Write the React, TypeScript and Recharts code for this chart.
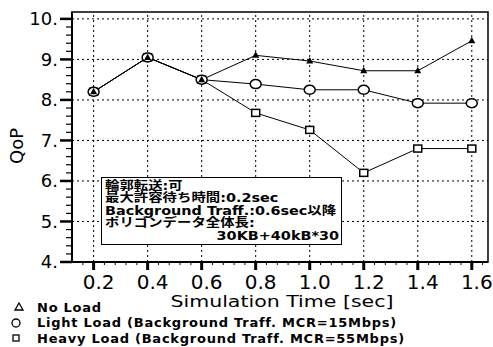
import React from "react";
import {
  LineChart,
  Line,
  XAxis,
  YAxis,
  ReferenceLine,
  ReferenceArea,
} from "recharts";

// simulation time points [sec]
const times = [0.2, 0.4, 0.6, 0.8, 1.0, 1.2, 1.4, 1.6];

// QoP per load condition
const noLoad = [8.2, 9.05, 8.5, 9.1, 8.96, 8.72, 8.72, 9.46];
const lightLoad = [8.2, 9.05, 8.5, 8.39, 8.25, 8.25, 7.92, 7.92];
const heavyLoad = [8.2, 9.05, 8.5, 7.68, 7.26, 6.2, 6.8, 6.8];

const seriesNames = [
  "No Load",
  "Light Load (Background Traff. MCR=15Mbps)",
  "Heavy Load (Background Traff. MCR=55Mbps)",
];

const yMajorTicks = [4, 5, 6, 7, 8, 9, 10];
const xMajorTicks = [0.2, 0.4, 0.6, 0.8, 1.0, 1.2, 1.4, 1.6];

const noteLines = [
  "輪郭転送:可",
  "最大許容待ち時間:0.2sec",
  "Background Traff.:0.6sec以降",
  "ポリゴンデータ全体長:",
];
const noteLastLine = "30KB+40kB*30";

const X_DOMAIN: [number, number] = [0.12, 1.66];
const Y_DOMAIN: [number, number] = [4, 10.17];

// minor subdivisions: 0.2 on the QoP axis, 0.04 on the time axis
const yTicks: number[] = [];
for (let i = 0; i <= 30; i++) yTicks.push(+(4 + i * 0.2).toFixed(2));
const xTicks: number[] = [];
for (let i = 0; i <= 37; i++) xTicks.push(+(0.16 + i * 0.04).toFixed(2));

const data = times.map((t, i) => ({
  t,
  noLoad: noLoad[i],
  light: lightLoad[i],
  heavy: heavyLoad[i],
}));

const FONT = "'DejaVu Sans', 'Noto Sans CJK JP', sans-serif";

const isMajor = (v: number, list: number[]) =>
  list.some((m) => Math.abs(m - v) < 1e-6);

const YTick = (props: any) => {
  const { x, y, payload } = props;
  const v = payload.value;
  if (isMajor(v, yMajorTicks)) {
    return (
      <g>
        <line x1={x - 12} x2={x} y1={y} y2={y} stroke="#000" strokeWidth={2.5} />
        <text
          x={x - 14}
          y={y}
          dy="0.36em"
          textAnchor="end"
          fontSize={18}
          fontFamily={FONT}
          fill="#000"
        >
          {`${v}.`}
        </text>
      </g>
    );
  }
  return <line x1={x - 6} x2={x} y1={y} y2={y} stroke="#000" strokeWidth={1.2} />;
};

const XTick = (props: any) => {
  const { x, y, payload } = props;
  const v = payload.value;
  if (isMajor(v, xMajorTicks)) {
    return (
      <g>
        <line x1={x} x2={x} y1={y} y2={y + 8} stroke="#000" strokeWidth={3} />
        <text
          x={x + 5}
          y={y + 27}
          textAnchor="middle"
          fontSize={20}
          fontFamily={FONT}
          fill="#000"
        >
          {v.toFixed(1)}
        </text>
      </g>
    );
  }
  return <line x1={x} x2={x} y1={y} y2={y + 3} stroke="#000" strokeWidth={1} />;
};

const XTitle = (props: any) => {
  const { viewBox } = props;
  return (
    <text
      x={viewBox.x + viewBox.width / 2 + 2}
      y={307}
      textAnchor="middle"
      fontSize={16.5}
      fontFamily={FONT}
      textLength={223}
      lengthAdjust="spacingAndGlyphs"
      fill="#000"
    >
      Simulation Time [sec]
    </text>
  );
};

const TriangleDot = (props: any) => {
  const { cx, cy } = props;
  return (
    <polygon
      points={`${cx},${cy - 4} ${cx - 3.5},${cy + 2.5} ${cx + 3.5},${cy + 2.5}`}
      fill="#000"
    />
  );
};

const CircleDot = (props: any) => {
  const { cx, cy } = props;
  return <ellipse cx={cx} cy={cy} rx={5.5} ry={4.5} fill="#fff" stroke="#000" strokeWidth={1.5} />;
};

const SquareDot = (props: any) => {
  const { cx, cy } = props;
  return <rect x={cx - 4} y={cy - 3.5} width={8} height={7} fill="#fff" stroke="#000" strokeWidth={1.5} />;
};

const legendSymbols = [
  <polygon key="t" points="19,2 15,9 23,9" fill="none" stroke="#000" strokeWidth={1.3} />,
  <ellipse key="c" cx={16} cy={6} rx={4} ry={4} fill="none" stroke="#000" strokeWidth={1.3} />,
  <rect key="s" x={13} y={3} width={6} height={6} fill="none" stroke="#000" strokeWidth={1.3} />,
];

export default function App() {
  return (
    <div
      style={{
        position: "absolute",
        left: 0,
        top: 0,
        width: 493,
        height: 347,
        background: "#fff",
        fontFamily: FONT,
      }}
    >
      <LineChart
        width={493}
        height={347}
        data={data}
        margin={{ top: 12, right: 5, bottom: 0, left: 0 }}
      >
        <XAxis
          dataKey="t"
          type="number"
          domain={X_DOMAIN}
          allowDataOverflow
          ticks={xTicks}
          interval={0}
          tick={<XTick />}
          tickSize={0}
          tickMargin={0}
          tickLine={false}
          axisLine={{ stroke: "#000", strokeWidth: 2 }}
          height={85}
          label={<XTitle />}
        />
        <YAxis
          type="number"
          domain={Y_DOMAIN}
          allowDataOverflow
          ticks={yTicks}
          interval={0}
          tick={<YTick />}
          tickSize={0}
          tickMargin={0}
          tickLine={false}
          axisLine={{ stroke: "#000", strokeWidth: 2 }}
          width={72}
        />
        <ReferenceArea
          x1={X_DOMAIN[0]}
          x2={X_DOMAIN[1]}
          y1={Y_DOMAIN[0]}
          y2={Y_DOMAIN[1]}
          fill="none"
          stroke="#000"
          strokeWidth={1.5}
        />
        {yMajorTicks.slice(1).map((v) => (
          <ReferenceLine key={`gy${v}`} y={v} stroke="#000" strokeDasharray="2 3" />
        ))}
        {xMajorTicks.map((v) => (
          <ReferenceLine key={`gx${v}`} x={v} stroke="#000" strokeDasharray="2 3" />
        ))}
        <Line
          dataKey="heavy"
          name={seriesNames[2]}
          type="linear"
          stroke="#000"
          strokeWidth={1}
          dot={<SquareDot />}
          isAnimationActive={false}
        />
        <Line
          dataKey="light"
          name={seriesNames[1]}
          type="linear"
          stroke="#000"
          strokeWidth={1}
          dot={<CircleDot />}
          isAnimationActive={false}
        />
        <Line
          dataKey="noLoad"
          name={seriesNames[0]}
          type="linear"
          stroke="#000"
          strokeWidth={1}
          dot={<TriangleDot />}
          isAnimationActive={false}
        />
      </LineChart>

      {/* condition note */}
      <div
        style={{
          position: "absolute",
          left: 101,
          top: 177,
          width: 236,
          height: 64,
          border: "1.5px solid #000",
          background: "#fff",
          padding: "2px 0 0 3px",
          boxSizing: "content-box",
          overflow: "hidden",
        }}
      >
        <div
          style={{
            transform: "scaleX(1.2)",
            transformOrigin: "left top",
            width: 195,
            fontSize: 12,
            lineHeight: "12.4px",
            fontWeight: 700,
            color: "#000",
            whiteSpace: "nowrap",
          }}
        >
          {noteLines.map((l) => (
            <div key={l}>{l}</div>
          ))}
          <div style={{ textAlign: "right" }}>{noteLastLine}</div>
        </div>
      </div>

      {/* legend */}
      {seriesNames.map((name, i) => (
        <div
          key={name}
          style={{
            position: "absolute",
            left: 0,
            top: 300 + i * 15.5,
            height: 14,
            display: "flex",
            alignItems: "center",
            whiteSpace: "nowrap",
          }}
        >
          <svg width={37} height={12}>
            {legendSymbols[i]}
          </svg>
          <span style={{ fontSize: 13, fontWeight: 700, letterSpacing: 0.75, color: "#000" }}>
            {name}
          </span>
        </div>
      ))}

      {/* vertical axis title */}
      <div
        style={{
          position: "absolute",
          left: 16,
          top: 146,
          transform: "translate(-50%, -50%) rotate(-90deg)",
          fontSize: 18,
          color: "#000",
          whiteSpace: "nowrap",
        }}
      >
        QoP
      </div>
    </div>
  );
}
